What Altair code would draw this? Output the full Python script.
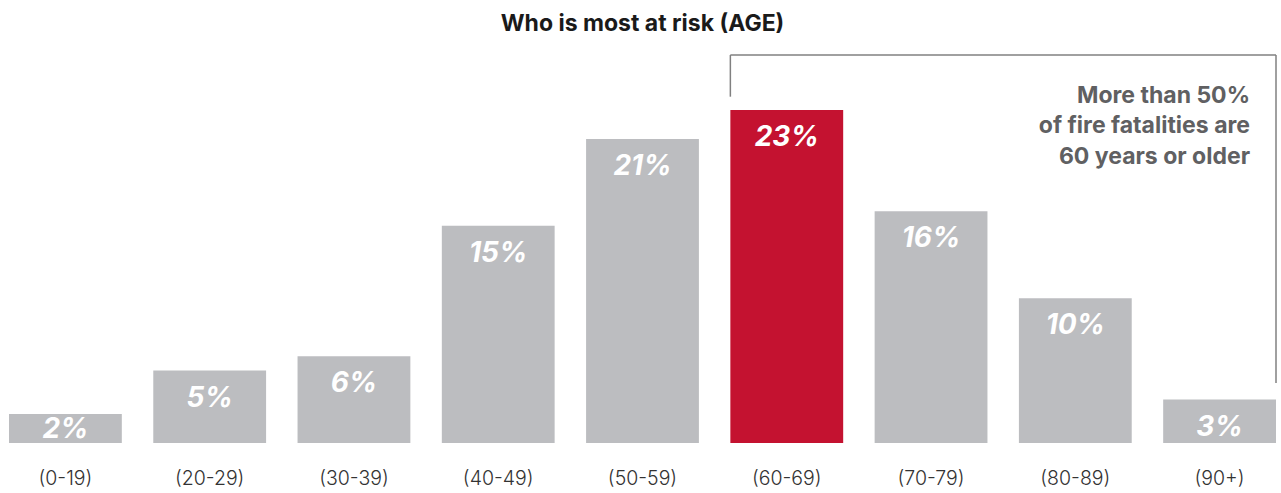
import altair as alt
import pandas as pd

ages = ["(0-19)", "(20-29)", "(30-39)", "(40-49)", "(50-59)", "(60-69)", "(70-79)", "(80-89)", "(90+)"]
pct = [2, 5, 6, 15, 21, 23, 16, 10, 3]
highlight = [False, False, False, False, False, True, False, False, False]

title_text = "Who is most at risk (AGE)"
note_lines = ["More than 50%", "of fire fatalities are", "60 years or older"]

df = pd.DataFrame({"age": ages, "pct": pct, "hl": highlight})
df["label"] = [f"{v}%" for v in pct]

FONT = "Inter"
GRAY = "#bcbdc0"
RED = "#c41230"
LINE = "#808080"
YMAX = 26.8

xenc = alt.X("age:N", sort=ages,
             scale=alt.Scale(paddingInner=0.218, paddingOuter=0),
             axis=alt.Axis(title=None, domain=False, ticks=False, labelAngle=0,
                           labelFont=FONT, labelFontSize=19.5, labelFontWeight=300,
                           labelColor="#333333", labelPadding=26))
yscale = alt.Scale(domain=[0, YMAX], nice=False, zero=True)

base = alt.Chart(df)

bars = base.mark_bar().encode(
    x=xenc,
    y=alt.Y("pct:Q", scale=yscale, axis=None),
    color=alt.Color("hl:N", scale=alt.Scale(domain=[False, True], range=[GRAY, RED]), legend=None),
)

labels = base.transform_calculate(
    ly="max(datum.pct, 2.83)"
).mark_text(font=FONT, fontSize=28, fontWeight="bold", fontStyle="italic",
            color="white", baseline="middle", align="center", dy=28).encode(
    x=alt.X("age:N", sort=ages),
    y=alt.Y("ly:Q", scale=yscale),
    text="label:N",
)

bracket_df = pd.DataFrame({"a": ["(60-69)"], "b": ["(90+)"], "top": [YMAX],
                           "lb": [23.92], "rb": [4.15], "ny": [24.75]})
bb = alt.Chart(bracket_df)

left_v = bb.mark_rule(color=LINE, strokeWidth=1.5).encode(
    x=alt.X("a:N", bandPosition=0, sort=ages), y=alt.Y("top:Q", scale=yscale), y2="lb:Q")
right_v = bb.mark_rule(color=LINE, strokeWidth=1.5).encode(
    x=alt.X("b:N", bandPosition=1, sort=ages), y=alt.Y("top:Q", scale=yscale), y2="rb:Q")
top_h = bb.mark_rule(color=LINE, strokeWidth=1.5).encode(
    x=alt.X("a:N", bandPosition=0, sort=ages), x2=alt.X2("b:N", bandPosition=1),
    y=alt.Y("top:Q", scale=yscale))

note = bb.mark_text(font=FONT, fontSize=23, fontWeight="bold", color="#606062",
                    align="right", baseline="top", lineHeight=30.5, dx=-26).encode(
    x=alt.X("b:N", bandPosition=1, sort=ages),
    y=alt.Y("ny:Q", scale=yscale),
    text=alt.value(note_lines),
)

chart = alt.layer(bars, labels, left_v, right_v, top_h, note).properties(
    width=1267, height=388,
    title=alt.TitleParams(title_text, font=FONT, fontSize=23, fontWeight="bold",
                          color="#1a1a1a", anchor="middle", offset=18),
    autosize=alt.AutoSizeParams(type="none"),
    padding={"left": 9, "top": 55, "right": 5, "bottom": 50},
).configure_view(stroke=None)

chart.save("out.html", embed_options={"renderer": "svg", "actions": False})
